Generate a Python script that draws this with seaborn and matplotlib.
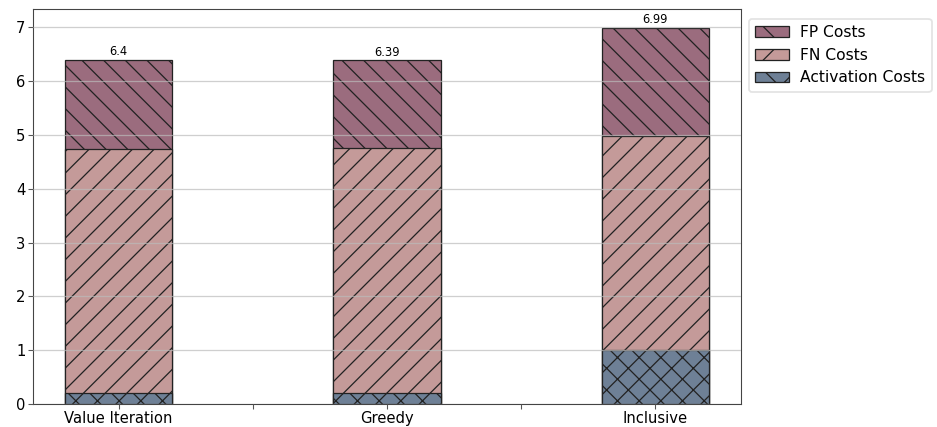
import matplotlib
matplotlib.use('Agg')
import matplotlib.pyplot as plt
import numpy as np
import pandas as pd
import seaborn as sns
from matplotlib.patches import Patch

# data
methods = ['Value Iteration', 'Greedy', 'Inclusive']
activation_costs = [0.2, 0.2, 1.0]
fn_costs = [4.54, 4.55, 3.97]
fp_costs = [1.66, 1.64, 2.02]
total_labels = ['6.4', '6.39', '6.99']

fp_color = '#9b6c7e'
fn_color = '#c49a99'
act_color = '#6e8096'

df = pd.DataFrame({'method': methods,
                   'act': activation_costs,
                   'fn': fn_costs,
                   'fp': fp_costs})
df['act_top'] = df['act']
df['fn_top'] = df['act'] + df['fn']
df['fp_top'] = df['fn_top'] + df['fp']

sns.set_style('white')
plt.rcParams['font.family'] = ['DejaVu Sans']
plt.rcParams['hatch.color'] = 'black'
plt.rcParams['hatch.linewidth'] = 0.7

dpi = 130
fig = plt.figure(figsize=(937 / dpi, 427 / dpi), dpi=dpi)
ax = fig.add_axes([0.035, 0.054, 0.756, 0.925])

# stacked bars drawn as cumulative totals, back to front
bar_kw = dict(width=0.4, saturation=1, edgecolor='#222222', linewidth=0.7, ax=ax)
sns.barplot(data=df, x='method', y='fp_top', color=fp_color, hatch='\\\\', **bar_kw)
sns.barplot(data=df, x='method', y='fn_top', color=fn_color, hatch='//', **bar_kw)
sns.barplot(data=df, x='method', y='act_top', color=act_color, hatch='xx', **bar_kw)

for i, (tot, lab) in enumerate(zip(df['fp_top'], total_labels)):
    ax.text(i, tot + 0.025, lab, ha='center', va='bottom', fontsize=6.4, color='black')

ax.set_xlim(-0.32, 2.32)
ax.set_ylim(0, 7.34)
ax.set_xticks([0, 0.5, 1, 1.5, 2])
ax.set_xticklabels(['Value Iteration', '', 'Greedy', '', 'Inclusive'])
ax.set_yticks(range(8))
ax.tick_params(axis='both', labelsize=8.2, length=2.5, width=0.6, color='#555555', direction='out',
               bottom=True, left=True, pad=1.5, labelcolor='black')
ax.set_xlabel('')
ax.set_ylabel('')

ax.set_axisbelow(False)
ax.yaxis.grid(True, color='#bbbbbb', linewidth=0.7, alpha=0.7)
ax.xaxis.grid(False)
for sp in ax.spines.values():
    sp.set_visible(True)
    sp.set_color('#444444')
    sp.set_linewidth(0.6)

handles = [Patch(facecolor=fp_color, edgecolor='#222222', hatch='\\', linewidth=0.7, label='FP Costs'),
           Patch(facecolor=fn_color, edgecolor='#222222', hatch='/', linewidth=0.7, label='FN Costs'),
           Patch(facecolor=act_color, edgecolor='#222222', hatch='x', linewidth=0.7, label='Activation Costs')]
ax.legend(handles=handles, loc='upper left', bbox_to_anchor=(1.0, 0.995), fontsize=8.6,
          frameon=True, fancybox=True, edgecolor='#dddddd', handlelength=2.2, labelcolor='black',
          borderpad=0.4, handletextpad=0.7)

fig.savefig('out.png', dpi=dpi)
